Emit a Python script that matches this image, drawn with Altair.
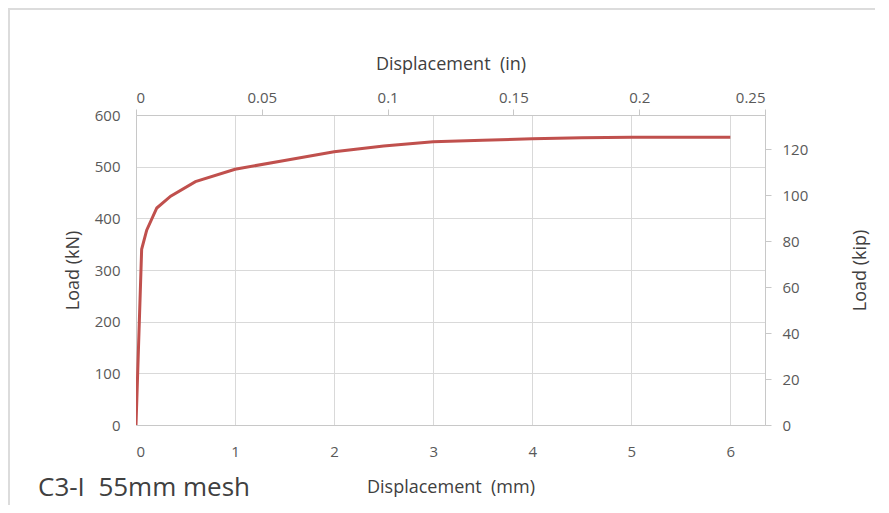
import altair as alt
import pandas as pd

# Curve data (displacement in mm, load in kN)
disp_mm = [0, 0.057, 0.108, 0.21, 0.35, 0.6, 1.0, 1.5, 2.0, 2.5, 3.0, 3.5, 4.0, 4.5, 5.0, 5.5, 6.0]
load_kN = [0, 340, 377, 420, 443, 471, 495, 512, 529, 540, 548, 551, 554, 556, 557, 557, 557]

mm_ticks = [0, 1, 2, 3, 4, 5, 6]
kn_ticks = [0, 100, 200, 300, 400, 500, 600]
in_ticks = [0, 0.05, 0.1, 0.15, 0.2, 0.25]
kip_ticks = [0, 20, 40, 60, 80, 100, 120]

MM_MAX = 6.35
KN_MAX = 600
IN_MAX = MM_MAX / 25.4
KIP_MAX = KN_MAX / 4.44822

df = pd.DataFrame({"mm": disp_mm, "kN": load_kN})
df["inch"] = df["mm"] / 25.4
df["kip"] = df["kN"] / 4.44822

FONT = "Open Sans"
LAB = "#595959"
GRID = "#d9d9d9"
DOM = "#c8c8c8"
NB = "\u00a0"

line = alt.Chart(df).mark_line(color="#c0504d", strokeWidth=3, clip=True).encode(
    x=alt.X("mm:Q", scale=alt.Scale(domain=[0, MM_MAX], nice=False, zero=False),
            axis=alt.Axis(values=mm_ticks, title="Displacement" + NB + " (mm)", orient="bottom",
                          grid=True, gridColor=GRID, ticks=False, domainColor=DOM,
                          labelPadding=19, titlePadding=19, format="d")),
    y=alt.Y("kN:Q", scale=alt.Scale(domain=[0, KN_MAX], nice=False),
            axis=alt.Axis(values=kn_ticks, title="Load (kN)", orient="left",
                          grid=True, gridColor=GRID, ticks=False, domainColor=DOM,
                          labelPadding=16, titlePadding=12)),
)

sec = alt.Chart(df).mark_line(opacity=0).encode(
    x=alt.X("inch:Q", scale=alt.Scale(domain=[0, IN_MAX], nice=False, zero=False),
            axis=alt.Axis(values=in_ticks, title="Displacement" + NB + " (in)", orient="top",
                          grid=False, ticks=True, tickSize=6, tickColor=DOM, domainColor=DOM,
                          labelPadding=4, titlePadding=17, format="~g")),
    y=alt.Y("kip:Q", scale=alt.Scale(domain=[0, KIP_MAX], nice=False),
            axis=alt.Axis(values=kip_ticks, title="Load (kip)", orient="right",
                          grid=False, ticks=True, tickSize=6, tickColor=DOM, domainColor=DOM,
                          labelPadding=11, titlePadding=62, titleAngle=270)),
)

frame_df = pd.DataFrame({"k": [0]})
frame_left = alt.Chart(frame_df).mark_rule(color="#dcdcdc", strokeWidth=2).encode(
    x=alt.value(-127), y=alt.value(-107), y2=alt.value(400))
frame_top = alt.Chart(frame_df).mark_rule(color="#dcdcdc", strokeWidth=2).encode(
    x=alt.value(-128), x2=alt.value(800), y=alt.value(-106))

label = alt.Chart(pd.DataFrame({"t": ["C3-I" + NB + " 55mm mesh"]})).mark_text(
    align="left", baseline="alphabetic", fontSize=26, font=FONT, color="#404040"
).encode(text="t:N", x=alt.value(-98), y=alt.value(381))

chart = alt.layer(line, sec, frame_left, frame_top, label).resolve_scale(
    x="independent", y="independent"
).properties(
    width=629, height=310,
    autosize=alt.AutoSizeParams(type="none"),
    padding={"left": 128, "top": 107, "right": 110, "bottom": 80},
).configure_view(stroke=None).configure_axis(
    labelFont=FONT, titleFont=FONT, labelColor=LAB, titleColor="#404040",
    labelFontSize=15, titleFontSize=18, titleFontWeight="normal",
)

chart.save("out.html", embed_options={"renderer": "svg", "actions": False})
